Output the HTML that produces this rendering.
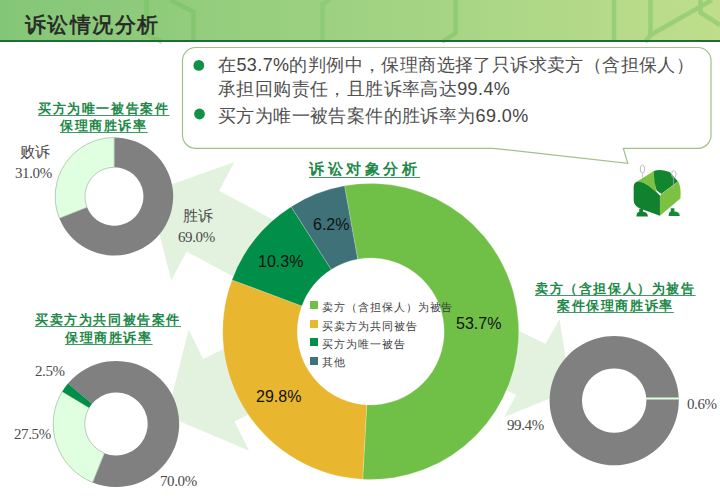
<!DOCTYPE html>
<html><head><meta charset="utf-8">
<style>
html,body{margin:0;padding:0;background:#fff;}
body{width:720px;height:498px;position:relative;overflow:hidden;font-family:"Liberation Serif",serif;}
svg{position:absolute;left:0;top:0;}
.t{position:absolute;white-space:nowrap;line-height:1;}
.title{font-family:"Liberation Serif",serif;font-size:21px;letter-spacing:1.4px;color:#262626;font-weight:normal;-webkit-text-stroke:0.6px #262626;}
.co{font-family:"Liberation Sans",sans-serif;font-size:18px;color:#505050;letter-spacing:0.4px;}
.d{color:#444;}
.gt{font-family:"Liberation Serif",serif;font-size:13px;color:#208848;font-weight:bold;text-decoration:underline;text-decoration-color:#3f9a62;text-underline-offset:2px;text-align:center;}
.lb{font-family:"Liberation Serif",serif;font-size:15px;color:#4a4a4a;}
.lb.n{letter-spacing:-0.4px;}
.pc{font-family:"Liberation Sans",sans-serif;font-size:16px;color:#111;}
.lg{font-family:"Liberation Serif",serif;font-size:10.5px;color:#3c3c3c;letter-spacing:0.95px;}
.sq{position:absolute;width:8px;height:8px;}
</style></head><body>
<div style="position:absolute;left:0;top:0;width:720px;height:40px;background:linear-gradient(to right,#84c677 0%,#9fd282 50%,#bfde8c 100%);"></div>
<svg width="720" height="498" viewBox="0 0 720 498">

<g stroke="#74c060" stroke-width="4.5" fill="none" opacity="0.45" stroke-linejoin="miter">
<path d="M146.5,0 V34 L162,42"/>
<path d="M170,0 L193.5,12 V42"/>
<path d="M322.5,42 V4 L330,0" opacity="0.7"/>
<path d="M455.5,0 V33 L442,42"/>
<path d="M614,0 V42"/>
<path d="M650.5,0 V35 L645,42"/>
<path d="M650.5,35 L712,0"/>
<path d="M700.5,0 V12.5 L720,25"/>
</g>
<rect x="0" y="40" width="720" height="2" fill="#1c6e38"/>
<path d="M195.5,47.5 H698 A13,13 0 0 1 711,60.5 V135.3 A13,13 0 0 1 698,148.3 H623.3 L627.8,163.3 L493,148.3 H195.5 A13,13 0 0 1 182.5,135.3 V60.5 A13,13 0 0 1 195.5,47.5 Z" fill="#fff" stroke="#a0c088" stroke-width="1.2"/>
<circle cx="198.8" cy="65.4" r="5.4" fill="#0f9246"/>
<circle cx="199.5" cy="114" r="5.4" fill="#0f9246"/>
<polygon points="149.0,192.5 171.2,280.3 186.5,251.6 340.9,334.1 373.4,273.2 219.1,190.8 234.4,162.1" fill="#e3f2de"/>
<polygon points="167.0,416.1 249.1,450.8 234.5,421.5 377.6,350.0 346.4,287.4 203.2,358.9 188.6,329.6" fill="#e3f2de"/>
<polygon points="570.9,390 559.5,319.2 545.5,343.8 410,279 381,330.5 516.1,395 504.1,417" fill="#e3f2de"/>
<circle cx="370.7" cy="331.5" r="73.5" fill="#fff"/>
<circle cx="114.2" cy="196.5" r="29.2" fill="#fff"/>
<circle cx="116.2" cy="424" r="31.5" fill="#fff"/>
<circle cx="614.2" cy="400.6" r="32.2" fill="#fff"/>
<path d="M114.20,137.50 A59,59 0 1 1 59.34,218.22 L87.05,207.25 A29.2,29.2 0 1 0 114.20,167.30 Z" fill="#808080" />
<path d="M59.34,218.22 A59,59 0 0 1 114.20,137.50 L114.20,167.30 A29.2,29.2 0 0 0 87.05,207.25 Z" fill="#e0ffe0" stroke="#9cb89c" stroke-width="0.7"/>
<path d="M67.94,383.50 A63,63 0 1 1 92.60,482.41 L104.40,453.21 A31.5,31.5 0 1 0 92.07,403.75 Z" fill="#808080" />
<path d="M92.60,482.41 A63,63 0 0 1 62.20,391.55 L89.20,407.78 A31.5,31.5 0 0 0 104.40,453.21 Z" fill="#e0ffe0" stroke="#9cb89c" stroke-width="0.7"/>
<path d="M62.20,391.55 A63,63 0 0 1 67.94,383.50 L92.07,403.75 A31.5,31.5 0 0 0 89.20,407.78 Z" fill="#008e48" />
<path d="M614.20,336.00 A64.6,64.6 0 1 1 614.19,336.00 L614.19,368.40 A32.2,32.2 0 1 0 614.20,368.40 Z" fill="#808080" />
<line x1="645.5" y1="398.6" x2="679.5" y2="398.4" stroke="#e0ffe0" stroke-width="2"/>
<path d="M344.49,185.84 A148,148 0 1 1 362.70,479.28 L366.73,404.89 A73.5,73.5 0 1 0 357.68,259.16 Z" fill="#70bf46" stroke="#ffffff" stroke-width="0.6" stroke-opacity="0.35"/>
<path d="M362.70,479.28 A148,148 0 0 1 231.98,279.91 L301.81,305.88 A73.5,73.5 0 0 0 366.73,404.89 Z" fill="#e8b62f" stroke="#ffffff" stroke-width="0.6" stroke-opacity="0.35"/>
<path d="M231.98,279.91 A148,148 0 0 1 291.18,206.68 L331.21,269.51 A73.5,73.5 0 0 0 301.81,305.88 Z" fill="#008e48" stroke="#ffffff" stroke-width="0.6" stroke-opacity="0.35"/>
<path d="M291.18,206.68 A148,148 0 0 1 344.49,185.84 L357.68,259.16 A73.5,73.5 0 0 0 331.21,269.51 Z" fill="#3f7179" stroke="#ffffff" stroke-width="0.6" stroke-opacity="0.35"/>
<!-- mascot -->
<g transform="translate(625,160) scale(0.1205)">
<path d="M118,405 L150,405 L150,430 Q188,432 190,468 L95,468 Q96,432 118,430 Z" fill="#10822f"/>
<path d="M380,400 L410,400 L410,428 Q452,430 455,465 L362,465 Q364,430 380,428 Z" fill="#138a33"/>
<path d="M90,185 L240,92 L258,255 L300,300 L200,260 L85,230 Z" fill="#7dc142"/>
<path d="M240,92 Q290,70 370,100 L440,178 L300,282 L262,252 Q240,190 240,92 Z" fill="#12862f"/>
<path d="M290,292 L440,178 Q468,215 460,320 L290,462 Z" fill="#7dc142"/>
<path d="M255,250 L300,282 L290,300 Z" fill="#ffffff"/>
<path d="M72,220 C72,192 90,178 115,180 C165,185 215,225 290,295 L290,462 L130,405 Q72,385 72,330 Z" fill="#10822f"/>
<ellipse cx="145" cy="75" rx="18" ry="33" fill="none" stroke="#b4b4b4" stroke-width="7"/>
<line x1="145" y1="108" x2="145" y2="145" stroke="#b4b4b4" stroke-width="6"/>
<ellipse cx="405" cy="118" rx="18" ry="30" fill="none" stroke="#b4b4b4" stroke-width="7"/>
<line x1="402" y1="148" x2="402" y2="240" stroke="#b4b4b4" stroke-width="6"/>
</g>
</svg>
<div class="t title" style="left:25px;top:15px;">诉讼情况分析</div>
<div class="t co" style="left:218px;top:56px;">在<span class="d">53.7%</span>的判例中，保理商选择了只诉求卖方（含担保人）</div>
<div class="t co" style="left:218px;top:80px;">承担回购责任，且胜诉率高达<span class="d">99.4%</span></div>
<div class="t co" style="left:218px;top:106.5px;">买方为唯一被告案件的胜诉率为<span class="d">69.0%</span></div>

<div class="t gt" style="left:309px;top:162px;font-size:15px;letter-spacing:3.5px;text-underline-offset:2.5px;">诉讼对象分析</div>
<div class="t gt" style="left:38px;top:102px;letter-spacing:1.6px;">买方为唯一被告案件</div>
<div class="t gt" style="left:60px;top:119px;letter-spacing:1.6px;">保理商胜诉率</div>
<div class="t gt" style="left:35px;top:313px;letter-spacing:1.6px;">买卖方为共同被告案件</div>
<div class="t gt" style="left:65px;top:331px;letter-spacing:1.6px;">保理商胜诉率</div>
<div class="t gt" style="left:535px;top:282px;letter-spacing:1.6px;">卖方（含担保人）为被告</div>
<div class="t gt" style="left:557px;top:299px;letter-spacing:1.6px;">案件保理商胜诉率</div>

<div class="t lb" style="left:20px;top:145px;">败诉</div>
<div class="t lb n" style="left:15px;top:166px;">31.0%</div>
<div class="t lb" style="left:183px;top:209px;">胜诉</div>
<div class="t lb n" style="left:178px;top:230px;">69.0%</div>
<div class="t lb n" style="left:35px;top:364px;">2.5%</div>
<div class="t lb n" style="left:14px;top:427px;">27.5%</div>
<div class="t lb n" style="left:160px;top:474px;">70.0%</div>
<div class="t lb n" style="left:507px;top:418px;">99.4%</div>
<div class="t lb n" style="left:687px;top:397px;">0.6%</div>

<div class="t pc" style="left:456px;top:316px;">53.7%</div>
<div class="t pc" style="left:256px;top:389px;">29.8%</div>
<div class="t pc" style="left:258px;top:254px;">10.3%</div>
<div class="t pc" style="left:313px;top:217px;">6.2%</div>

<div class="sq" style="left:310px;top:301px;background:#70bf46;"></div>
<div class="sq" style="left:310px;top:320px;background:#e8b62f;"></div>
<div class="sq" style="left:310px;top:338px;background:#008e48;"></div>
<div class="sq" style="left:310px;top:357px;background:#3f7179;"></div>
<div class="t lg" style="left:322px;top:303px;">卖方（含担保人）为被告</div>
<div class="t lg" style="left:322px;top:322px;">买卖方为共同被告</div>
<div class="t lg" style="left:322px;top:340px;">买方为唯一被告</div>
<div class="t lg" style="left:322px;top:358px;">其他</div>
</body></html>
